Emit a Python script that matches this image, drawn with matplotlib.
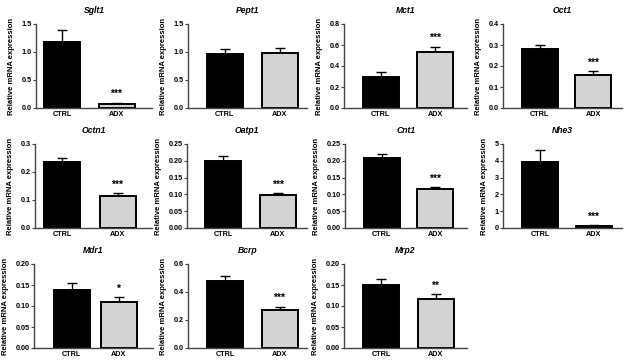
import matplotlib
matplotlib.use('Agg')
import matplotlib.pyplot as plt
import numpy as np

plt.rcParams['font.family'] = ['Liberation Sans', 'DejaVu Sans']
plt.rcParams['font.weight'] = 'bold'

genes = ['Sglt1', 'Pept1', 'Mct1', 'Oct1', 'Octn1', 'Oatp1', 'Cnt1', 'Nhe3',
         'Mdr1', 'Bcrp', 'Mrp2']
groups = ['CTRL', 'ADX']
ctrl_mean = [1.18, 0.97, 0.30, 0.281, 0.236, 0.199, 0.209, 3.92, 0.138, 0.477, 0.149]
ctrl_sem = [0.22, 0.09, 0.04, 0.018, 0.015, 0.016, 0.011, 0.75, 0.016, 0.035, 0.015]
adx_mean = [0.08, 0.98, 0.53, 0.157, 0.115, 0.097, 0.115, 0.12, 0.109, 0.273, 0.116]
adx_sem = [0.015, 0.09, 0.055, 0.017, 0.010, 0.008, 0.007, 0.06, 0.013, 0.022, 0.012]
stars = ['***', '', '***', '***', '***', '***', '***', '***', '*', '***', '**']
y_max = [1.5, 1.5, 0.8, 0.4, 0.3, 0.25, 0.25, 5, 0.20, 0.6, 0.20]
y_step = [0.5, 0.5, 0.2, 0.1, 0.1, 0.05, 0.05, 1, 0.05, 0.2, 0.05]
tick_fmt = ['%.1f', '%.1f', '%.1f', '%.1f', '%.1f', '%.2f', '%.2f', '%d',
            '%.2f', '%.1f', '%.2f']

# layout in pixels: axis left, axis right, ctrl centre, adx centre
W, H = 626, 363
boxes = [(36, 152, 62, 116.5), (188, 307, 224.5, 280), (344, 467, 380.5, 435),
         (503, 622, 539.5, 593), (35, 152, 62, 117.5), (187, 307, 223, 278),
         (345, 467, 381.5, 435), (503, 622, 540, 593.5), (34, 153, 71.5, 118.5),
         (188, 307, 225, 279.5), (344, 467, 381, 435.5)]
rows = [(24, 108), (144, 228), (264, 348)]

fig = plt.figure(figsize=(W / 100, H / 100), dpi=100)
grey = '#444444'

for i, g in enumerate(genes):
    left, right, c0, c1 = boxes[i]
    top, bot = rows[i // 4]
    ax = fig.add_axes([left / W, 1 - bot / H, (right - left) / W, (bot - top) / H])
    unit = c1 - c0
    means = [ctrl_mean[i], adx_mean[i]]
    sems = [ctrl_sem[i], adx_sem[i]]
    x = np.arange(2)
    ax.bar(x, means, width=36 / unit, color=['black', '#d3d3d3'],
           edgecolor='black', linewidth=1.4, zorder=2)
    ax.errorbar(x, means, yerr=[[0, 0], sems], fmt='none', ecolor='black',
                elinewidth=1.0, capsize=3.5, capthick=1.0, zorder=1)
    if stars[i]:
        ax.text(1, adx_mean[i] + adx_sem[i] + y_max[i] * 0.04, stars[i],
                ha='center', va='bottom', fontsize=7.5, fontweight='bold')
    ax.set_xlim((left - c0) / unit, (right - c0) / unit)
    ax.set_ylim(0, y_max[i])
    ticks = np.arange(0, y_max[i] + y_step[i] / 2, y_step[i])
    ax.set_yticks(ticks)
    ax.set_yticklabels([tick_fmt[i] % t for t in ticks])
    ax.set_xticks(x)
    ax.set_xticklabels(groups)
    ax.tick_params(axis='y', length=2, width=0.8, color=grey, labelsize=5.2, pad=1)
    ax.tick_params(axis='x', length=0, labelsize=5.2, pad=2.5)
    for s in ['top', 'right']:
        ax.spines[s].set_visible(False)
    for s in ['left', 'bottom']:
        ax.spines[s].set_color(grey)
        ax.spines[s].set_linewidth(1.0)
    ax.set_ylabel('Relative mRNA expression', fontsize=5.5, fontweight='bold',
                  labelpad=5)
    ax.set_title(g, fontsize=6.2, fontweight='bold', style='italic', pad=8)

fig.savefig('out.png', dpi=100)
